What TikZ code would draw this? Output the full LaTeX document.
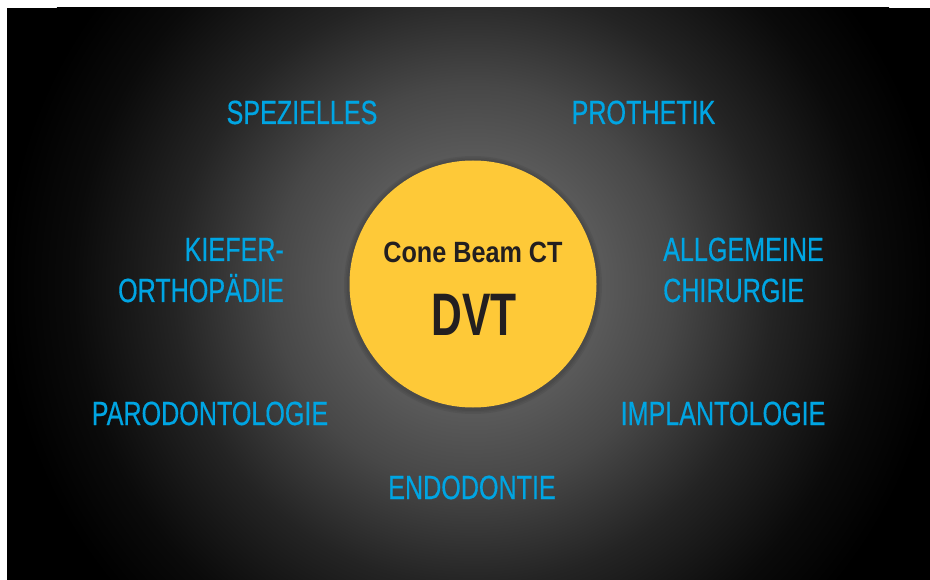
\documentclass[tikz,border=0pt]{standalone}
\usepackage{fontspec}
\setmainfont{Liberation Sans}
\newfontfamily\labelfont[FakeStretch=0.75, FakeBold=0.4]{Liberation Sans}
\newfontfamily\subfont[FakeStretch=0.86]{Liberation Sans}
\newfontfamily\titlefont[FakeStretch=0.71]{Liberation Sans}

\definecolor{fieldblue}{RGB}{0,165,227}
\definecolor{discyellow}{RGB}{254,201,56}
\definecolor{inkdark}{RGB}{35,31,32}

% soft spotlight behind the centre disc (25bp = path radius)
\pgfdeclareradialshading{spotlight}{\pgfpoint{0bp}{0bp}}{%
  color(0bp)=(black!60);
  color(6.5bp)=(black!65);
  color(10bp)=(black!72);
  color(15bp)=(black!86);
  color(20bp)=(black!96);
  color(23.5bp)=(black);
  color(50bp)=(black)}

\tikzset{
  field/.style={font=\labelfont\fontsize{33.5}{40}\selectfont, text=fieldblue, inner sep=0pt},
  discsub/.style={font=\subfont\bfseries\fontsize{29.3}{34}\selectfont, text=inkdark, inner sep=0pt},
  disctitle/.style={font=\titlefont\bfseries\fontsize{60}{70}\selectfont, text=inkdark, inner sep=0pt},
  disc/.style={circle, fill=discyellow, minimum size=247pt, inner sep=0pt}
}

\begin{document}
\begin{tikzpicture}[x=1pt, y=-1pt]
  \useasboundingbox (0,0) rectangle (930,580);
  \fill[white] (0,0) rectangle (930,580);

  % dark panel with radial glow
  \fill[black] (7,8) rectangle (930,580);
  \begin{scope}
    \clip (7,8) rectangle (930,580);
    \shade[shading=spotlight] (473,285) circle[radius=500];
  \end{scope}

  % disc shadow
  \foreach \r in {129,127.5,126}
    \fill[black, opacity=0.06] (473,285) circle[radius=\r];

  \node[disc] (core) at (473,284) {};

  \node[discsub, anchor=base] (cbct) at (473,263) {Cone Beam CT};
  \node[disctitle, anchor=base] (dvt) at (474,336) {DVT};

  \node[field, anchor=base] (spez) at (302,124) {SPEZIELLES};
  \node[field, anchor=base] (proth) at (643.5,124) {PROTHETIK};
  \node[field, anchor=base east] (kief) at (284,261) {KIEFER-};
  \node[field, anchor=base east] (ortho) at (284,302) {ORTHOPÄDIE};
  \node[field, anchor=base west] (allg) at (663,261) {ALLGEMEINE};
  \node[field, anchor=base west] (chir) at (663,302) {CHIRURGIE};
  \node[field, anchor=base] (paro) at (210,425) {PARODONTOLOGIE};
  \node[field, anchor=base] (impl) at (723,425) {IMPLANTOLOGIE};
  \node[field, anchor=base] (endo) at (472,499) {ENDODONTIE};
\end{tikzpicture}
\end{document}
